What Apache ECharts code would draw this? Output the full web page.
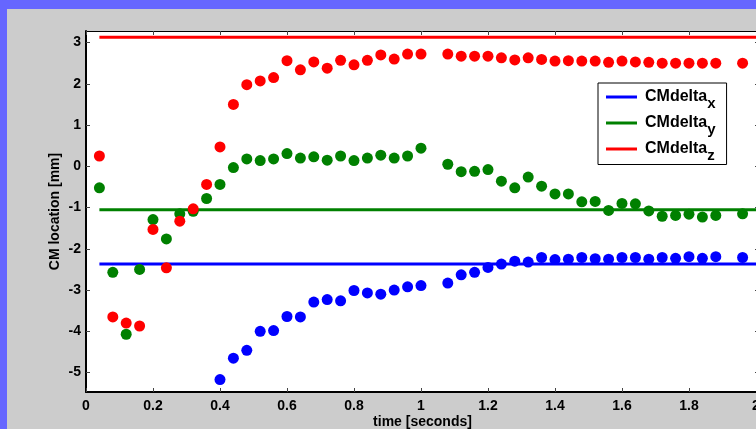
<!DOCTYPE html>
<html>
<head>
<meta charset="utf-8">
<script src="https://cdn.jsdelivr.net/npm/echarts@6/dist/echarts.min.js"></script>
<style>
html,body{margin:0;padding:0;}
#outer{position:relative;width:756px;height:429px;background:#6666ff;overflow:hidden;}
#chart{position:absolute;left:7px;top:9px;width:800px;height:420px;}
</style>
</head>
<body>
<div id="outer"><div id="chart"></div></div>
<script>
// time stamps (seconds)
var times = [0.04,0.08,0.12,0.16,0.20,0.24,0.28,0.32,0.36,0.40,0.44,0.48,0.52,0.56,0.60,0.64,0.68,0.72,0.76,0.80,0.84,0.88,0.92,0.96,1.00,
             1.08,1.12,1.16,1.20,1.24,1.28,1.32,1.36,1.40,1.44,1.48,1.52,1.56,1.60,1.64,1.68,1.72,1.76,1.80,1.84,1.88,
             1.96];
// CM delta x (blue)
var deltaX = [null,null,null,null,null,null,null,null,null,-5.17,-4.65,-4.46,-4.00,-3.98,-3.64,-3.65,-3.29,-3.23,-3.26,-3.01,-3.07,-3.10,-3.00,-2.92,-2.89,
              -2.83,-2.63,-2.57,-2.45,-2.37,-2.30,-2.32,-2.21,-2.26,-2.25,-2.21,-2.24,-2.25,-2.21,-2.21,-2.25,-2.21,-2.23,-2.19,-2.23,-2.19,
              -2.21];
// CM delta y (green)
var deltaY = [-0.52,-2.57,-4.07,-2.50,-1.29,-1.76,-1.15,-1.09,-0.78,-0.44,-0.03,0.18,0.14,0.18,0.31,0.20,0.23,0.15,0.25,0.14,0.20,0.27,0.20,0.25,0.44,
              0.05,-0.13,-0.12,-0.08,-0.36,-0.52,-0.26,-0.48,-0.67,-0.67,-0.86,-0.85,-1.07,-0.90,-0.91,-1.08,-1.21,-1.19,-1.16,-1.23,-1.19,
              -1.15];
// CM delta z (red)
var deltaZ = [0.25,-3.65,-3.80,-3.87,-1.53,-2.46,-1.33,-1.03,-0.44,0.47,1.50,1.98,2.07,2.15,2.56,2.34,2.53,2.38,2.57,2.46,2.57,2.70,2.60,2.72,2.72,
              2.72,2.67,2.67,2.67,2.63,2.58,2.63,2.59,2.55,2.56,2.55,2.55,2.52,2.55,2.53,2.52,2.50,2.50,2.50,2.50,2.50,
              2.50];
// reference (mean) lines
var lineT = [0.04, 2.2];
var meanX = -2.37;
var meanY = -1.05;
var meanZ = 3.13;
// tick labels
var xTicks = [0,0.2,0.4,0.6,0.8,1,1.2,1.4,1.6,1.8,2];
var yTicks = [-5,-4,-3,-2,-1,0,1,2,3];
var legendNames = ['CMdelta_x','CMdelta_y','CMdelta_z'];

function pts(arr){
  var out=[];
  for(var i=0;i<times.length;i++){ if(arr[i]!==null) out.push([times[i],arr[i]]); }
  return out;
}
function hline(v){ return lineT.map(function(t){return [t,v];}); }

var FF = 'Liberation Sans, Arial, sans-serif';
var font = {fontFamily:FF, fontWeight:'bold', fontSize:14, color:'#000'};

var chart = echarts.init(document.getElementById('chart'), null, {renderer:'canvas'});
var option = {
  backgroundColor:'#cccccc',
  animation:false,
  grid:{left:79, top:22, width:673, height:361, show:true, backgroundColor:'#ffffff', borderWidth:0, containLabel:false, outerBoundsMode:'none'},
  legend:{
    orient:'vertical', left:591, top:74,
    data:legendNames.map(function(n){return {name:n, icon:'rect'};}),
    backgroundColor:'#ffffff', borderColor:'#000', borderWidth:1,
    padding:[6,11,1,8], itemGap:3.5, itemWidth:31, itemHeight:3,
    formatter:function(n){ return '{a|CMdelta}{s|'+n.split('_')[1]+'}'; },
    textStyle:{rich:{
      a:{fontFamily:FF, fontWeight:'bold', fontSize:16, color:'#000', padding:[0,0,0,3]},
      s:{fontFamily:FF, fontWeight:'bold', fontSize:15, color:'#000', padding:[14,0,0,0], verticalAlign:'bottom'}
    }}
  },
  xAxis:[{
    type:'value', position:'bottom', min:0, max:2.009,
    name:'time [seconds]', nameLocation:'middle', nameGap:23, nameMoveOverlap:false, nameTextStyle:font,
    axisLine:{show:true, onZero:false, lineStyle:{color:'#000', width:2}},
    axisTick:{show:true, inside:true, length:4, customValues:xTicks, lineStyle:{color:'#444'}},
    axisLabel:{customValues:xTicks, margin:7, fontFamily:FF, fontWeight:'bold', fontSize:14, color:'#000'},
    splitLine:{show:false}
  },{
    type:'value', position:'top', min:0, max:2.009,
    axisLine:{show:true, onZero:false, lineStyle:{color:'#000', width:1}},
    axisTick:{show:true, inside:true, length:4, customValues:xTicks, lineStyle:{color:'#444'}},
    axisLabel:{show:false}, splitLine:{show:false}
  }],
  yAxis:[{
    type:'value', position:'left', min:-5.47, max:3.28,
    name:'CM location [mm]', nameLocation:'middle', nameGap:24, nameRotate:90, nameMoveOverlap:false, nameTextStyle:font,
    axisLine:{show:true, onZero:false, lineStyle:{color:'#000', width:2}},
    axisTick:{show:true, inside:true, length:4, customValues:yTicks, lineStyle:{color:'#444'}},
    axisLabel:{customValues:yTicks, margin:5, fontFamily:FF, fontWeight:'bold', fontSize:14, color:'#000'},
    splitLine:{show:false}
  },{
    type:'value', position:'right', min:-5.47, max:3.28,
    axisLine:{show:true, onZero:false, lineStyle:{color:'#000', width:1}},
    axisTick:{show:true, inside:true, length:4, customValues:yTicks, lineStyle:{color:'#444'}},
    axisLabel:{show:false}, splitLine:{show:false}
  }],
  series:[
    {name:'CMdelta_x', type:'line', data:hline(meanX), symbol:'none', lineStyle:{color:'#0000ff', width:3}, itemStyle:{color:'#0000ff'}, clip:true, z:1},
    {name:'CMdelta_y', type:'line', data:hline(meanY), symbol:'none', lineStyle:{color:'#008000', width:3}, itemStyle:{color:'#008000'}, clip:true, z:1},
    {name:'CMdelta_z', type:'line', data:hline(meanZ), symbol:'none', lineStyle:{color:'#ff0000', width:3}, itemStyle:{color:'#ff0000'}, clip:true, z:1},
    {name:'x pts', type:'scatter', data:pts(deltaX), symbolSize:11, itemStyle:{color:'#0000ff', opacity:1}, z:2},
    {name:'y pts', type:'scatter', data:pts(deltaY), symbolSize:11, itemStyle:{color:'#008000', opacity:1}, z:3},
    {name:'z pts', type:'scatter', data:pts(deltaZ), symbolSize:11, itemStyle:{color:'#ff0000', opacity:1}, z:4}
  ]
};
chart.setOption(option);
</script>
</body>
</html>
